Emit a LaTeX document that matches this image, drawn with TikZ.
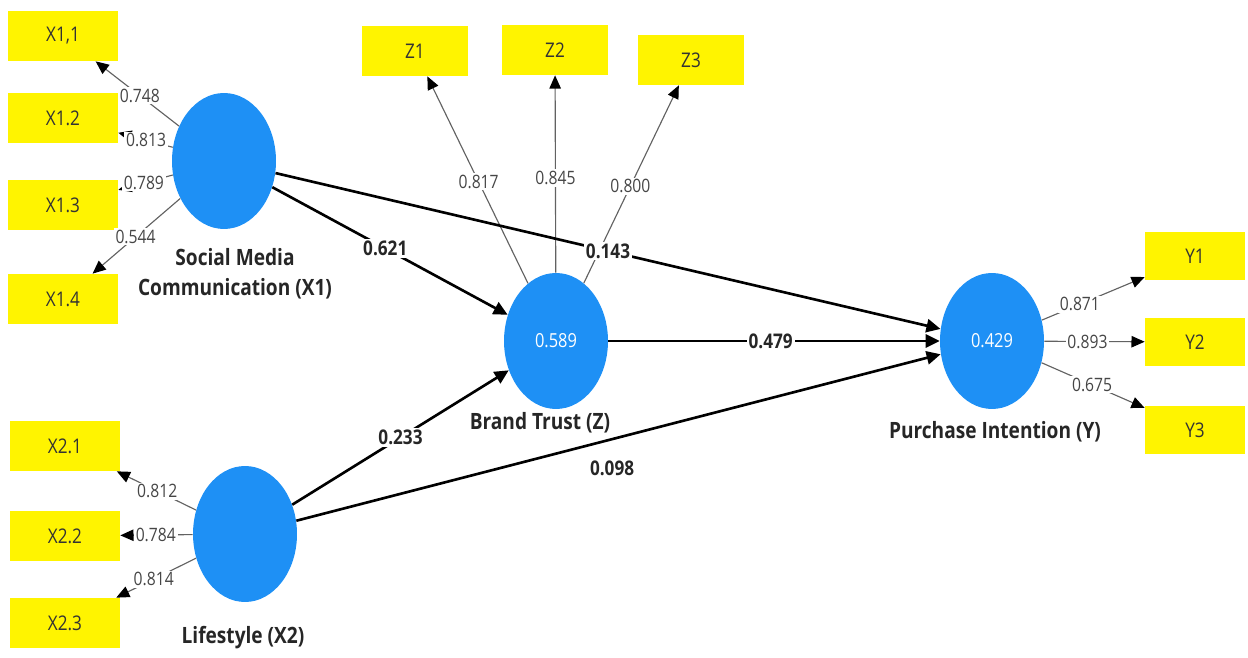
\documentclass[tikz,border=0pt]{standalone}
\usepackage{fontspec}
\setmainfont{Open Sans}[FakeStretch=0.85]
\usepackage{tikz}
\usetikzlibrary{shapes.geometric,arrows.meta,positioning,calc}
\definecolor{lvblue}{RGB}{30,144,245}
\definecolor{indyellow}{RGB}{255,244,0}
\definecolor{loadgray}{RGB}{70,70,70}
\tikzset{
  % Indicator: plain yellow box, no border
  indbox/.style={rectangle, fill=indyellow, minimum width=2.2cm, minimum height=1.0cm,
                 inner sep=0pt, text=black!80, font=\fontsize{11.5}{13}\selectfont},
  indbox-z/.style={indbox, minimum width=2.12cm},
  indbox-y/.style={indbox, minimum width=2.0cm, minimum height=0.96cm},
  % Latent variable: blue ellipse, R-square inside
  latent/.style={ellipse, fill=lvblue, minimum width=2.08cm, minimum height=2.72cm,
                 inner sep=0pt, text=white, font=\fontsize{11}{13}\selectfont},
  lvname/.style={align=center, text=black!85, font=\bfseries\fontsize{12.8}{17}\selectfont},
  % Outer loadings: thin grey line, black head
  loadarr/.style={-{Triangle[length=7.5pt,width=6.5pt,color=black]}, line width=0.65pt, draw=loadgray!85},
  loadlbl/.style={fill=white, inner sep=1pt, text=loadgray, font=\fontsize{10.5}{12}\selectfont},
  % Inner model: heavy arrows with coefficients
  patharr/.style={-{Triangle[length=8pt,width=7.5pt]}, line width=1.5pt},
  pathlbl/.style={fill=white, inner sep=1pt, text=black!85, font=\bfseries\fontsize{11.5}{13}\selectfont}
}
\begin{document}
\begin{tikzpicture}[x=0.02cm, y=-0.02cm]
\useasboundingbox (0,0) rectangle (1248,658);

% ============== LATENT VARIABLES ==============
\node[latent] (smc) at (224,161) {};
\node[latent] (life) at (245,534) {};
\node[latent] (trust) at (556,341) {0.589};
\node[latent] (intent) at (992,341) {0.429};

\node[lvname] (smcname) at (235,274) {Social Media\\Communication (X1)};
\node[lvname] (lifename) at (243,638) {Lifestyle (X2)};
\node[lvname] (trustname) at (540,423) {Brand Trust (Z)};
\node[lvname] (intentname) at (995,432) {Purchase Intention (Y)};

% ============== INDICATORS ==============
\node[indbox] (x11) at (63,36) {X1,1};
\node[indbox] (x12) at (63,118) {X1.2};
\node[indbox] (x13) at (63,205) {X1.3};
\node[indbox] (x14) at (63,299) {X1.4};
\node[indbox] (x21) at (65,446) {X2.1};
\node[indbox] (x22) at (65,536) {X2.2};
\node[indbox] (x23) at (65,623) {X2.3};
\node[indbox-z] (z1) at (415,51) {Z1};
\node[indbox-z] (z2) at (555,50) {Z2};
\node[indbox-z] (z3) at (691,60) {Z3};
\node[indbox-y] (y1) at (1195,256) {Y1};
\node[indbox-y] (y2) at (1195,342) {Y2};
\node[indbox-y] (y3) at (1195,430) {Y3};

% ============== OUTER LOADINGS ==============
\draw[loadarr] (smc) -- node[loadlbl, pos=0.47] {0.748} (x11);
\draw[loadarr] (smc) -- node[loadlbl, pos=0.49] {0.813} (x12);
\draw[loadarr] (smc) -- node[loadlbl, pos=0.53] {0.789} (x13);
\draw[loadarr] (smc) -- node[loadlbl, pos=0.51] {0.544} (x14);

\draw[loadarr] (life) -- node[loadlbl, pos=0.49] {0.812} (x21);
\draw[loadarr] (life) -- node[loadlbl, pos=0.51] {0.784} (x22);
\draw[loadarr] (life) -- node[loadlbl, pos=0.53] {0.814} (x23);

\draw[loadarr] (trust) -- node[loadlbl, pos=0.49] {0.817} (z1);
\draw[loadarr] (trust) -- node[loadlbl, pos=0.48] {0.845} (z2);
\draw[loadarr] (trust) -- node[loadlbl, pos=0.49] {0.800} (z3);

\draw[loadarr] (intent) -- node[loadlbl, pos=0.37] {0.871} (y1);
\draw[loadarr] (intent) -- node[loadlbl, pos=0.43] {0.893} (y2);
\draw[loadarr] (intent) -- node[loadlbl, pos=0.49] {0.675} (y3);

% ============== PATH COEFFICIENTS ==============
\draw[patharr] (smc) -- node[pathlbl, pos=0.48] {0.621} (trust);
\draw[patharr] (smc) -- node[pathlbl, pos=0.5] {0.143} (intent);
\draw[patharr] (trust) -- node[pathlbl, pos=0.49] {0.479} (intent);
\draw[patharr] (life) -- node[pathlbl, pos=0.5] {0.233} (trust);
% label sits below its line, not on it
\draw[patharr] (life) -- node[pathlbl, fill=none, pos=0.49, yshift=-0.58cm] {0.098} (intent);

\end{tikzpicture}
\end{document}
